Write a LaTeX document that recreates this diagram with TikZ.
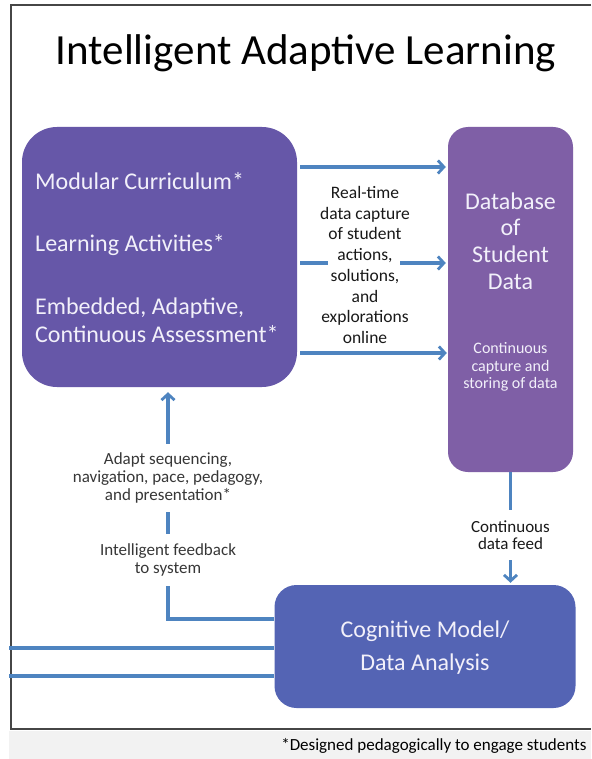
\documentclass[tikz,border=0pt]{standalone}
\usepackage{fontspec}
\setmainfont{Carlito}
\usetikzlibrary{arrows.meta}
\definecolor{lboxc}{RGB}{102,87,168}
\definecolor{dbboxc}{RGB}{127,95,166}
\definecolor{cboxc}{RGB}{84,100,180}
\definecolor{arrc}{RGB}{78,132,192}
\definecolor{boxtxt}{RGB}{242,240,250}
\definecolor{midtxt}{RGB}{25,25,25}
\definecolor{lbltxt}{RGB}{55,55,55}
\definecolor{frm}{RGB}{70,70,70}
\definecolor{bandc}{RGB}{242,242,242}
\begin{document}
\begin{tikzpicture}[x=1pt,y=-1pt,
  panel/.style={rounded corners=#1, draw=none, inner sep=0pt},
  boxtext/.style={text=boxtxt, inner sep=0pt, font=\fontsize{24}{26.7}\selectfont, text height=0.62em, text depth=0pt},
  flow/.style={draw=arrc, line width=3.1pt},
  flowarrow/.style={flow, -{Straight Barb[length=6pt,width=13pt,line width=2.8pt]}},
  midlabel/.style={text=midtxt, align=center, font=\fontsize{17.5}{20.7}\selectfont},
  sidelabel/.style={text=lbltxt, align=center, fill=white, font=\fontsize{17}{18}\selectfont}
]
\useasboundingbox (0,0) rectangle (591,759);
\fill[white] (0,0) rectangle (591,759);
\fill[bandc] (9,731) rectangle (591,759);
\draw[frm, line width=1.6pt] (591,5) -- (11,5) -- (11,729) -- (591,729);

\node[font=\fontsize{43}{50}\selectfont] (title) at (306,53) {Intelligent Adaptive Learning};

% boxes
\node[panel=35pt, fill=lboxc, minimum width=275pt, minimum height=260pt] (lb) at (159.5,257) {};
\node[panel=20pt, fill=dbboxc, minimum width=125pt, minimum height=345pt] (db) at (510.5,299.5) {};
\node[panel=22pt, fill=cboxc, minimum width=301pt, minimum height=123pt] (cog) at (425,646.5) {};

% left box text
\node[boxtext, anchor=west] (t1) at (35,186) {Modular Curriculum*};
\node[boxtext, anchor=west] (t2) at (35,248) {Learning Activities*};
\node[boxtext, anchor=west] (t3) at (35,311) {Embedded, Adaptive,};
\node[boxtext, anchor=west] (t4) at (35,339) {Continuous Assessment*};

% database text
\node[text=boxtxt, align=center, font=\fontsize{24}{26.7}\selectfont] (dbt) at (510.5,241) {Database\\of\\Student\\Data};
\node[text=boxtxt, align=center, font=\fontsize{16}{17.5}\selectfont] (dbs) at (510.5,367) {Continuous\\capture and\\storing of data};

% cognitive text
\node[text=boxtxt, align=center, font=\fontsize{24}{33}\selectfont] (cogt) at (425,648) {Cognitive Model/\\Data Analysis};

% capture arrows
\coordinate (a1) at (0,167);
\coordinate (a3) at (0,353);
\coordinate (m1) at (328,263);
\coordinate (m2) at (400,263);
\draw[flowarrow, shorten <=3pt, shorten >=2pt] (lb.east |- a1) -- (db.west |- a1);
\draw[flow, shorten <=3pt] (lb.east |- m1) -- (m1);
\draw[flowarrow, shorten >=2pt] (m2) -- (db.west |- m2);
\draw[flowarrow, shorten <=3pt, shorten >=1pt] (lb.east |- a3) -- (db.west |- a3);
\node[midlabel] (rt) at (365,265) {Real-time\\data capture\\of student\\actions,\\solutions,\\and\\explorations\\online};

% continuous data feed
\draw[flowarrow, shorten >=2pt] (db.south) -- (db.south |- cog.north);
\node[midlabel, fill=white, font=\fontsize{17}{17.5}\selectfont, inner ysep=10pt] (cdf) at (510.5,535) {Continuous\\data feed};

% feedback path
\coordinate (fb) at (168,619);
\draw[flowarrow, shorten >=5pt] (cog.west |- fb) -- (fb) -- (fb |- lb.south);
\node[sidelabel, inner ysep=9pt] (adapt) at (168,478) {Adapt sequencing,\\navigation, pace, pedagogy,\\and presentation*};
\node[sidelabel, inner ysep=10pt] (fbk) at (168,560) {Intelligent feedback\\to system};

% outgoing lines
\coordinate (l1) at (9,648);
\coordinate (l2) at (9,676);
\draw[flow] (l1) -- (cog.west |- l1);
\draw[flow] (l2) -- (cog.west |- l2);

% footnote
\node[anchor=east, font=\fontsize{17}{20}\selectfont] (fn) at (590,746) {*Designed pedagogically to engage students};
\end{tikzpicture}
\end{document}
